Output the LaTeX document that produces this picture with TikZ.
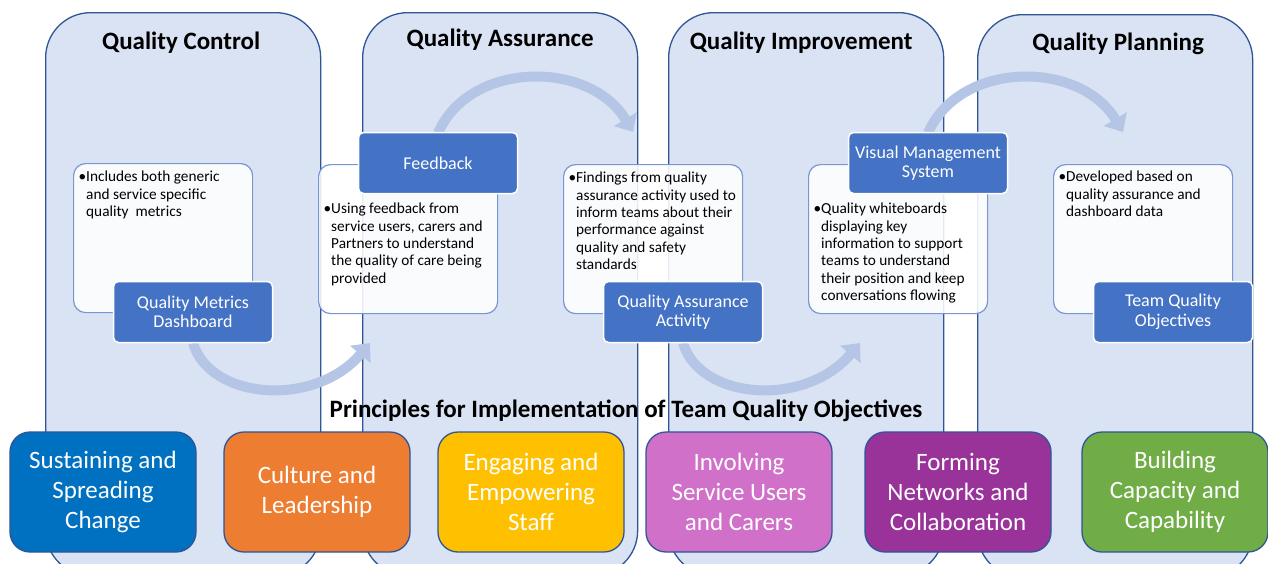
\documentclass[tikz,border=0pt]{standalone}
\usepackage{fontspec}
\setmainfont{Carlito}
\usepackage{tikz}
\usetikzlibrary{arrows.meta}
\definecolor{colfill}{RGB}{218,227,243}
\definecolor{colline}{RGB}{47,85,151}
\definecolor{memoline}{RGB}{120,150,210}
\definecolor{tagblue}{RGB}{68,114,196}
\definecolor{flowblue}{RGB}{180,197,229}
\definecolor{pBlue}{RGB}{0,112,192}
\definecolor{pOrange}{RGB}{237,125,49}
\definecolor{pGold}{RGB}{255,192,0}
\definecolor{pOrchid}{RGB}{209,112,200}
\definecolor{pPurple}{RGB}{153,51,153}
\definecolor{pGreen}{RGB}{112,173,71}

\begin{document}
\begin{tikzpicture}[x=1pt,y=-1pt,
  column/.style={draw=colline,line width=1.3pt,fill=colfill,rounded corners=45pt,
    minimum width=275pt,minimum height=563pt,anchor=north west,inner sep=0pt},
  head/.style={font=\bfseries\fontsize{25}{29}\selectfont},
  memo/.style={draw=memoline,line width=1.2pt,fill=white,fill opacity=0.88,rounded corners=12pt,
    minimum width=179pt,minimum height=149pt,anchor=north west,inner sep=0pt},
  memotext/.style={font=\fontsize{15.3}{17.3}\selectfont,align=left,anchor=north west,inner sep=0pt},
  tag/.style={draw=white,line width=1.5pt,fill=tagblue,rounded corners=5pt,text=white,align=center,
    font=\fontsize{18}{19.5}\selectfont,minimum width=159pt,minimum height=61pt,inner sep=0pt},
  principle/.style={draw=colline,line width=1.3pt,rounded corners=20pt,text=white,align=center,
    font=\fontsize{25}{30}\selectfont,minimum width=186pt,minimum height=120pt,inner sep=0pt},
  flow/.style={draw=flowblue,line width=10pt,-{Triangle[width=26pt,length=15pt]}}]
  \useasboundingbox (0,0) rectangle (1268,563);
  \fill[white] (0,0) rectangle (1268,563);
  \clip (0,0) rectangle (1268,563);

  % the four stages
  \node[column] (qc) at (45,12) {};
  \node[column] (qa) at (362,12) {};
  \node[column] (qi) at (668,12) {};
  \node[column] (qp) at (977,14) {};
  \node[head] at ([shift={(-2,31)}]qc.north) {Quality Control};
  \node[head] at ([shift={(0,28)}]qa.north) {Quality Assurance};
  \node[head] at ([shift={(-5,31)}]qi.north) {Quality Improvement};
  \node[head] at ([shift={(3,30)}]qp.north) {Quality Planning};

  % hand-over arrows
  \coordinate (fbk-in) at (370,343);
  \coordinate (qaa-in) at (633,132);
  \coordinate (vms-in) at (860,343);
  \coordinate (tqo-in) at (1123,132);
  \draw[flow] (193,343) .. controls +(17,57) and +(-55,65) .. (fbk-in);
  \draw[flow] (438,133) .. controls +(32,-73) and +(-43,-72) .. (qaa-in);
  \draw[flow] (683,343) .. controls +(17,57) and +(-55,65) .. (vms-in);
  \draw[flow] (928,133) .. controls +(32,-73) and +(-43,-72) .. (tqo-in);

  % notes
  \node[memo] (m1) at (73,163) {};
  \node[memo] (m2) at (318,164) {};
  \node[memo] (m3) at (563,164) {};
  \node[memo] (m4) at (808,164) {};
  \node[memo] (m5) at (1053,164) {};
  \node[memotext] at ([shift={(13,8)}]m1.north west)
    {\llap{•}Includes both generic\\and service specific\\quality\ \ metrics};
  \node[memotext] at ([shift={(13,39)}]m2.north west)
    {\llap{•}Using feedback from\\service users, carers and\\Partners to understand\\the quality of care being\\provided};
  \node[memotext] at ([shift={(13,8)}]m3.north west)
    {\llap{•}Findings from quality\\assurance activity used to\\inform teams about their\\performance against\\quality and safety\\standards};
  \node[memotext] at ([shift={(13,39)}]m4.north west)
    {\llap{•}Quality whiteboards\\displaying key\\information to support\\teams to understand\\their position and keep\\conversations flowing};
  \node[memotext] at ([shift={(13,7)}]m5.north west)
    {\llap{•}Developed based on\\quality assurance and\\dashboard data};

  % tools
  \node[tag] (dash) at (193,312) {Quality Metrics\\Dashboard};
  \node[tag] (fbk) at (438,163) {Feedback};
  \node[tag] (qaa) at (683,312) {Quality Assurance\\Activity};
  \node[tag] (vms) at (928,163) {Visual Management\\System};
  \node[tag] (tqo) at (1173,312) {Team Quality\\Objectives};

  % principles
  \node[font=\bfseries\fontsize{25}{29}\selectfont] (principles) at (626,411)
    {Principles for Implementation of Team Quality Objectives};
  \node[principle,fill=pBlue] (p1) at (103,492) {Sustaining and\\Spreading\\Change};
  \node[principle,fill=pOrange] (p2) at (317,492) {Culture and\\Leadership};
  \node[principle,fill=pGold] (p3) at (531,492) {Engaging and\\Empowering\\Staff};
  \node[principle,fill=pOrchid] (p4) at (739,492) {Involving\\Service Users\\and Carers};
  \node[principle,fill=pPurple] (p5) at (958,492) {Forming\\Networks and\\Collaboration};
  \node[principle,fill=pGreen] (p6) at (1175,492) {Building\\Capacity and\\Capability};
\end{tikzpicture}
\end{document}
